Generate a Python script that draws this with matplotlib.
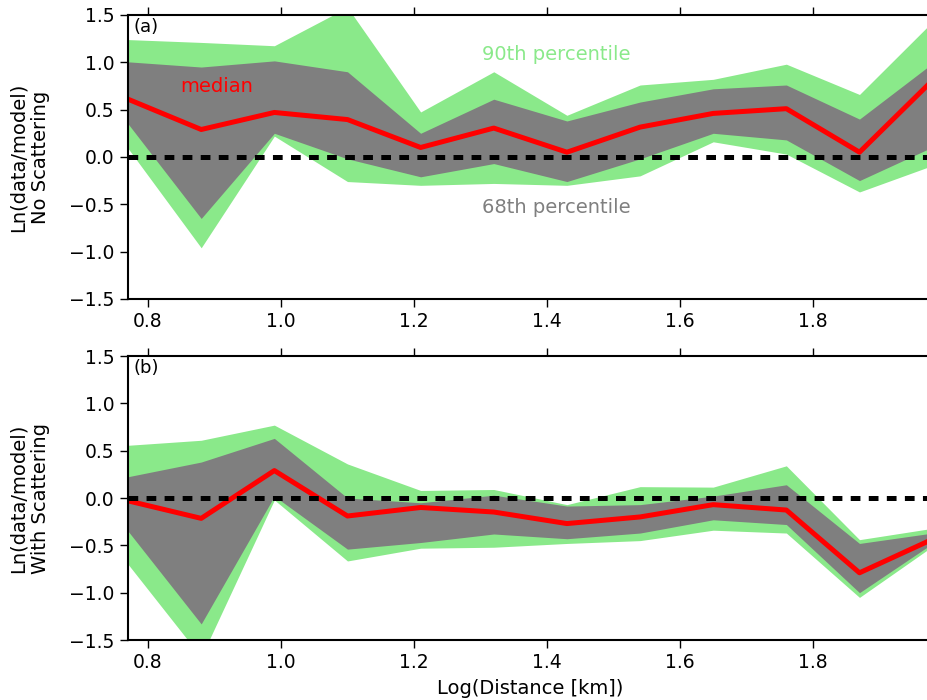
import matplotlib
matplotlib.use("Agg")
import matplotlib.pyplot as plt

plt.rcParams['font.family'] = ['DejaVu Sans']
plt.rcParams['lines.scale_dashes'] = False

# log distance bins
log_dist = [0.77, 0.88, 0.99, 1.10, 1.21, 1.32, 1.43, 1.54, 1.65, 1.76, 1.87, 1.98]

# (a) no scattering
p90_hi_a = [1.24, 1.21, 1.175, 1.58, 0.475, 0.90, 0.44, 0.76, 0.82, 0.98, 0.66, 1.43]
p68_hi_a = [1.005, 0.95, 1.015, 0.90, 0.25, 0.61, 0.38, 0.58, 0.72, 0.76, 0.40, 0.99]
median_a = [0.61, 0.29, 0.47, 0.395, 0.10, 0.305, 0.05, 0.315, 0.46, 0.51, 0.05, 0.81]
p68_lo_a = [0.35, -0.65, 0.25, -0.02, -0.21, -0.07, -0.26, -0.02, 0.25, 0.18, -0.25, 0.105]
p90_lo_a = [0.09, -0.96, 0.22, -0.26, -0.30, -0.28, -0.30, -0.20, 0.16, 0.03, -0.37, -0.09]

# (b) with scattering
p90_hi_b = [0.557, 0.61, 0.77, 0.36, 0.08, 0.09, -0.07, 0.12, 0.115, 0.34, -0.44, -0.32]
p68_hi_b = [0.225, 0.38, 0.63, 0.0, -0.05, 0.03, -0.085, -0.07, 0.02, 0.14, -0.48, -0.37]
median_b = [-0.03, -0.215, 0.29, -0.19, -0.10, -0.148, -0.27, -0.20, -0.07, -0.127, -0.79, -0.435]
p68_lo_b = [-0.35, -1.33, 0.02, -0.54, -0.47, -0.38, -0.43, -0.37, -0.23, -0.28, -1.0, -0.48]
p90_lo_b = [-0.70, -1.68, -0.02, -0.665, -0.53, -0.52, -0.48, -0.45, -0.34, -0.37, -1.05, -0.51]

GREEN = "#8ae98a"
GRAY = "#7f7f7f"

fig = plt.figure(figsize=(9.28, 7.0), dpi=100)
ax_a = fig.add_axes([0.138, 0.573, 0.867, 0.4056])
ax_b = fig.add_axes([0.138, 0.0857, 0.867, 0.4057])


def draw_panel(ax, p90_lo, p90_hi, p68_lo, p68_hi, median, ylabel, tag):
    ax.fill_between(log_dist, p90_lo, p90_hi, color=GREEN, linewidth=0)
    ax.fill_between(log_dist, p68_lo, p68_hi, color=GRAY, linewidth=0)
    ax.plot(log_dist, median, color="red", linewidth=3.6)
    ax.axhline(0, color="black", linewidth=3.6, dashes=(7, 6))
    ax.set_xlim(0.77, 1.98)
    ax.set_ylim(-1.5, 1.5)
    ax.set_yticks([-1.5, -1.0, -0.5, 0.0, 0.5, 1.0, 1.5])
    ax.set_xticks([0.8, 1.0, 1.2, 1.4, 1.6, 1.8])
    ax.tick_params(direction="out", length=6, width=1, labelsize=13.5,
                   top=True, right=True)
    for sp in ax.spines.values():
        sp.set_linewidth(1.5)
    ax.set_ylabel(ylabel, fontsize=14, labelpad=14)
    ax.text(0.007, 0.988, tag, transform=ax.transAxes, ha="left", va="top",
            fontsize=13)


draw_panel(ax_a, p90_lo_a, p90_hi_a, p68_lo_a, p68_hi_a, median_a,
           "Ln(data/model)\nNo Scattering", "(a)")
draw_panel(ax_b, p90_lo_b, p90_hi_b, p68_lo_b, p68_hi_b, median_b,
           "Ln(data/model)\nWith Scattering", "(b)")

ax_a.text(0.848, 0.747, "median", color="red", fontsize=14, ha="left", va="center")
ax_a.text(1.302, 1.087, "90th percentile", color=GREEN, fontsize=14, ha="left", va="center")
ax_a.text(1.302, -0.535, "68th percentile", color=GRAY, fontsize=14, ha="left", va="center")

ax_b.set_xlabel("Log(Distance [km])", fontsize=14, labelpad=5)

fig.savefig("out.png", dpi=100)
